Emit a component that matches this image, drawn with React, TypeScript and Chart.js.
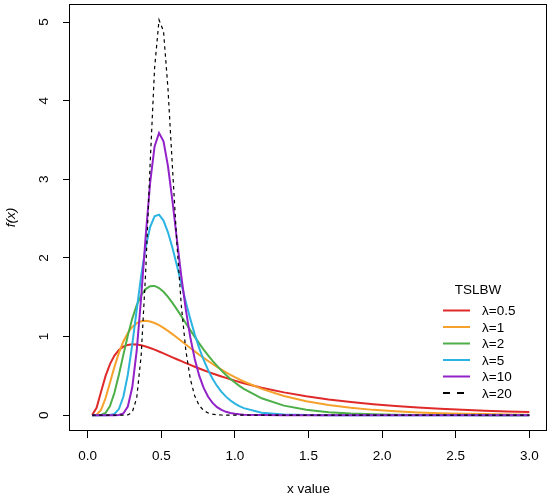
import { useEffect, useRef } from 'react';
import { Chart, registerables } from 'chart.js';

Chart.register(...registerables);

// x grid of the curves (coarser past x = 1.06, where every curve is smooth)
const xValues = [
	0.0303, 0.0606, 0.0909, 0.1212, 0.1515, 0.1818, 0.2121, 0.2424, 0.2727, 0.303,
	0.3333, 0.3636, 0.3939, 0.4242, 0.4545, 0.4848, 0.5152, 0.5455, 0.5758, 0.6061,
	0.6364, 0.6667, 0.697, 0.7273, 0.7576, 0.7879, 0.8182, 0.8485, 0.8788, 0.9091,
	0.9394, 0.9697, 1.0, 1.0303, 1.0606, 1.1818, 1.3333, 1.4848, 1.6364, 1.7879,
	1.9394, 2.0909, 2.2424, 2.3939, 2.5455, 2.697, 2.8485, 3.0,
];

const lambda05 = [
	0.0022, 0.0948, 0.2969, 0.4961, 0.6503, 0.7582, 0.8288, 0.8715, 0.894, 0.9017,
	0.8991, 0.889, 0.8736, 0.8546, 0.833, 0.8099, 0.7857, 0.761, 0.7362, 0.7114,
	0.6869, 0.6628, 0.6392, 0.6162, 0.5939, 0.5722, 0.5511, 0.5308, 0.5112, 0.4922,
	0.474, 0.4564, 0.4394, 0.4231, 0.4073, 0.3502, 0.2902, 0.2409, 0.2003, 0.1669,
	0.1392, 0.1163, 0.0973, 0.0815, 0.0683, 0.0574, 0.0482, 0.0406,
];
const lambda1 = [
	0, 0.0055, 0.0666, 0.2148, 0.4126, 0.6144, 0.793, 0.9374, 1.0461, 1.122,
	1.1698, 1.1945, 1.2007, 1.1923, 1.1727, 1.1448, 1.1107, 1.0722, 1.0308, 0.9876,
	0.9434, 0.8991, 0.855, 0.8117, 0.7694, 0.7284, 0.6887, 0.6506, 0.614, 0.5791,
	0.5458, 0.5141, 0.4839, 0.4554, 0.4283, 0.3342, 0.2438, 0.1773, 0.1287, 0.0933,
	0.0676, 0.049, 0.0355, 0.0258, 0.0187, 0.0136, 0.0098, 0.0071,
];
const lambda2 = [
	0, 0, 0.0024, 0.0285, 0.1175, 0.2853, 0.5134, 0.7669, 1.0129, 1.2283,
	1.4004, 1.5251, 1.6037, 1.6412, 1.6435, 1.6174, 1.5693, 1.5049, 1.4289, 1.3457,
	1.2585, 1.1698, 1.0818, 0.9959, 0.9133, 0.8346, 0.7605, 0.691, 0.6264, 0.5667,
	0.5117, 0.4612, 0.4151, 0.3731, 0.3349, 0.2152, 0.1217, 0.0679, 0.0376, 0.0206,
	0.0113, 0.0062, 0.0034, 0.0018, 0.001, 0.0005, 0.0003, 0.0002,
];
const lambda5 = [
	0, 0, 0, 0, 0.0015, 0.016, 0.0779, 0.2347, 0.5141, 0.9009,
	1.343, 1.7742, 2.1365, 2.3926, 2.5287, 2.5501, 2.4747, 2.3259, 2.1282, 1.9035,
	1.6698, 1.4405, 1.2248, 1.0283, 0.8538, 0.7021, 0.5723, 0.4629, 0.3719, 0.2969,
	0.2357, 0.1862, 0.1464, 0.1147, 0.0895, 0.0321, 0.0085, 0.0021, 0.0005, 0.0001,
	0, 0, 0, 0, 0, 0, 0, 0,
];
const lambda10 = [
	0, 0, 0, 0, 0, 0.0001, 0.0022, 0.0215, 0.1094, 0.3541,
	0.8254, 1.5047, 2.2709, 2.9555, 3.4172, 3.5894, 3.4842, 3.1671, 2.7242, 2.236,
	1.7631, 1.343, 0.9927, 0.7148, 0.503, 0.3468, 0.2348, 0.1565, 0.1028, 0.0666,
	0.0427, 0.0271, 0.017, 0.0106, 0.0065, 0.0009, 0.0001, 0, 0, 0,
	0, 0, 0, 0, 0, 0, 0, 0,
];
const lambda20 = [
	0, 0, 0, 0, 0, 0, 0, 0.0001, 0.0035, 0.0387,
	0.2205, 0.7652, 1.8142, 3.1889, 4.4127, 5.0283, 4.8837, 4.1521, 3.1562, 2.1815,
	1.3899, 0.8254, 0.4612, 0.2442, 0.1234, 0.0598, 0.028, 0.0126, 0.0055, 0.0024,
	0.001, 0.0004, 0.0002, 0.0001, 0, 0, 0, 0, 0, 0,
	0, 0, 0, 0, 0, 0, 0, 0,
];

const seriesLabels = ['λ=0.5', 'λ=1', 'λ=2', 'λ=5', 'λ=10', 'λ=20'];
const seriesValues = [lambda05, lambda1, lambda2, lambda5, lambda10, lambda20];
const seriesColors = ['#E02A2A', '#F5A12C', '#4DAF48', '#2BB4E2', '#9222C8', '#000000'];
const legendTitle = 'TSLBW';

const xTicks = [0, 0.5, 1, 1.5, 2, 2.5, 3];
const yTicks = [0, 1, 2, 3, 4, 5];

const family = "'Liberation Sans', Arial, Helvetica, sans-serif";
const fontSize = 13.5;

// R style box round the plot and the legend in its lower right
const boxAndLegend = {
	id: 'boxAndLegend',
	afterDraw(chart: Chart) {
		const { ctx, chartArea: a } = chart;
		ctx.save();
		ctx.strokeStyle = '#000';
		ctx.lineWidth = 1;
		ctx.setLineDash([]);
		ctx.strokeRect(a.left - 0.5, a.top + 0.5, a.right - a.left, a.bottom - a.top - 1);

		ctx.font = `${fontSize}px ${family}`;
		ctx.fillStyle = '#000';
		ctx.textBaseline = 'middle';
		ctx.textAlign = 'center';
		const top = a.bottom - 141;
		ctx.fillText(legendTitle, a.right - 69, top);
		chart.data.datasets.forEach((ds: any, i: number) => {
			const y = top + 20.5 + i * 16.5;
			ctx.strokeStyle = ds.borderColor;
			ctx.lineWidth = 2;
			ctx.setLineDash(ds.borderDash && ds.borderDash.length ? [7, 7] : []);
			ctx.beginPath();
			ctx.moveTo(a.right - 104, y);
			ctx.lineTo(a.right - 77, y);
			ctx.stroke();
			ctx.textAlign = 'left';
			ctx.fillText(ds.label, a.right - 65, y + 1);
		});
		ctx.restore();
	},
};

export default function App() {
	const chartRef = useRef<HTMLCanvasElement>(null);

	useEffect(() => {
		if (!chartRef.current) return;
		const chart = new Chart(chartRef.current, {
			type: 'line',
			data: {
				datasets: seriesLabels.map((label, i) => ({
					label,
					data: xValues.map((x, j) => ({ x, y: seriesValues[i][j] })),
					borderColor: seriesColors[i],
					backgroundColor: seriesColors[i],
					borderWidth: i === 5 ? 1.2 : 2,
					borderDash: i === 5 ? [3.5, 3.5] : [],
					pointRadius: 0,
					tension: 0,
					fill: false,
					order: 5 - i,
				})),
			},
			options: {
				animation: false,
				responsive: false,
				devicePixelRatio: 1,
				layout: { padding: { left: 0, right: 3, top: 4, bottom: 0 } },
				plugins: { legend: { display: false }, tooltip: { enabled: false } },
				scales: {
					x: {
						type: 'linear',
						min: -0.12,
						max: 3.12,
						afterBuildTicks: (axis: any) => {
							axis.ticks = xTicks.map((value) => ({ value }));
						},
						afterFit: (axis: any) => {
							axis.height = 66;
							axis.paddingLeft = 0;
							axis.paddingRight = 0;
						},
						grid: { drawOnChartArea: false, drawTicks: true, tickLength: 7, color: '#000', lineWidth: 1 },
						border: { display: false },
						ticks: {
							autoSkip: false,
							maxRotation: 0,
							minRotation: 0,
							padding: 10.5,
							color: '#000',
							font: { family, size: fontSize },
							callback: (v: any) => Number(v).toFixed(1),
						},
						title: {
							display: true,
							text: 'x value',
							color: '#000',
							font: { family, size: fontSize },
							padding: { top: 0, bottom: 0 },
						},
					},
					y: {
						type: 'linear',
						min: -0.2011,
						max: 5.2294,
						afterBuildTicks: (axis: any) => {
							axis.ticks = yTicks.map((value) => ({ value }));
						},
						afterFit: (axis: any) => {
							axis.width = 70;
							axis.paddingTop = 0;
							axis.paddingBottom = 0;
						},
						grid: { drawOnChartArea: false, drawTicks: true, tickLength: 7, color: '#000', lineWidth: 1 },
						border: { display: false },
						ticks: {
							autoSkip: false,
							minRotation: 90,
							maxRotation: 90,
							crossAlign: 'center',
							padding: 15,
							color: '#000',
							font: { family, size: fontSize },
							callback: (v: any) => String(v),
						},
						title: {
							display: true,
							text: 'f(x)',
							color: '#000',
							font: { family, size: fontSize, style: 'italic' },
							padding: { top: 3.5, bottom: 0 },
						},
					},
				},
			},
			plugins: [boxAndLegend],
		} as any);
		return () => chart.destroy();
	}, []);

	return (
		<div style={{ position: 'fixed', left: 0, top: 0, width: 550, height: 497, background: '#fff' }}>
			<canvas ref={chartRef} width={550} height={497} style={{ display: 'block' }}></canvas>
		</div>
	);
}
